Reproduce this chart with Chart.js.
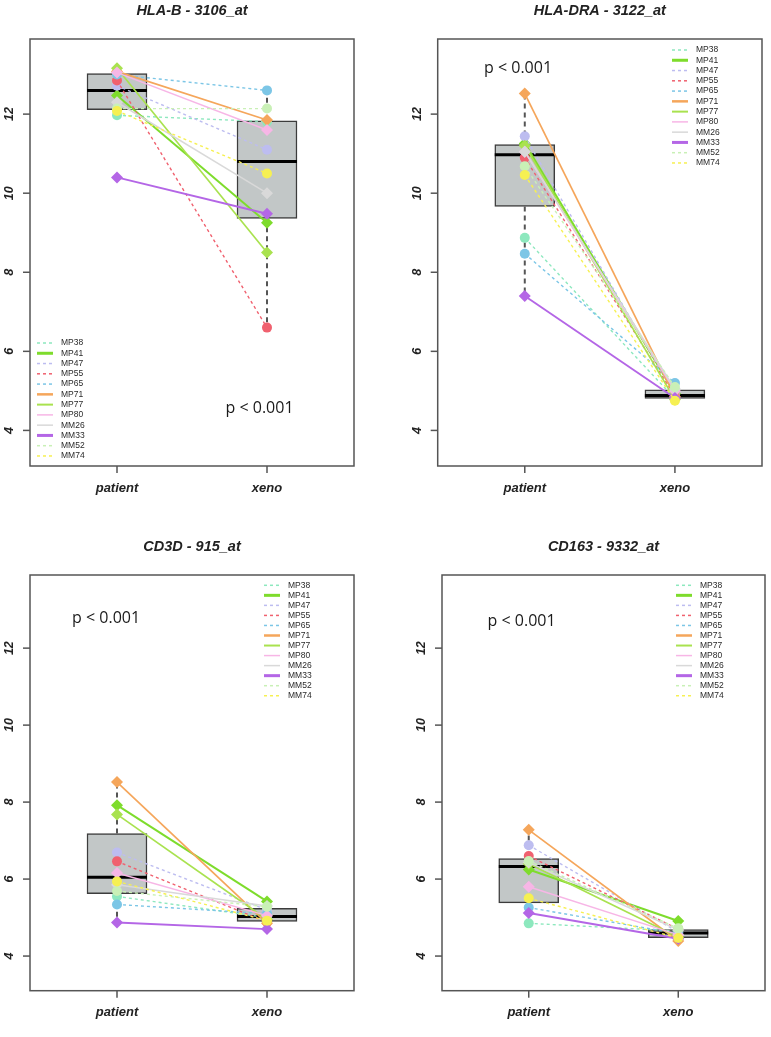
<!DOCTYPE html>
<html>
<head>
<meta charset="utf-8">
<title>Patient vs xeno expression</title>
<script src="https://cdn.jsdelivr.net/npm/chart.js@4.4.1/dist/chart.umd.min.js"></script>
<style>
    html, body { margin: 0; padding: 0; background: #fff; }
    #page { position: relative; width: 771px; height: 1037px; }
    #page canvas { position: absolute; }
</style>
</head>
<body>
<div id="page">
    <canvas id="hlaB" width="385" height="518" style="left:0;top:0"></canvas>
    <canvas id="hlaDRA" width="386" height="518" style="left:385px;top:0"></canvas>
    <canvas id="cd3d" width="385" height="519" style="left:0;top:518px"></canvas>
    <canvas id="cd163" width="386" height="519" style="left:385px;top:518px"></canvas>
</div>
<script>
// Samples, in legend order
const samples = ['MP38', 'MP41', 'MP47', 'MP55', 'MP65', 'MP71', 'MP77', 'MP80', 'MM26', 'MM33', 'MM52', 'MM74'];
const sampleColors = ['#8DE8BE', '#7EDC2C', '#BDBDF0', '#F0616F', '#7CC6E6', '#F5A65B',
                      '#A9E24F', '#F7B6E6', '#D9D9D9', '#B466E6', '#C9F0B6', '#F6F052'];
const sampleDashed = [true, false, true, true, true, false, false, false, false, false, true, true];
const sampleWidths = [1.4, 2, 1.4, 1.4, 1.4, 1.7, 1.7, 1.5, 1.5, 1.9, 1.4, 1.4];
const legendWidths = [1.5, 3, 1.5, 1.5, 1.5, 2.5, 2, 1.5, 1.5, 3, 1.5, 1.5];

const groups = ['patient', 'xeno'];
const yTicks = [4, 6, 8, 10, 12];

// Expression values per sample (patient, xeno)
const hlaBPatient   = [11.97, 12.47, 12.72, 12.85, 13.00, 13.08, 13.16, 13.05, 12.30, 10.40, 12.14, 12.08];
const hlaBXeno      = [11.81,  9.25, 11.10,  6.60, 12.60, 11.85,  8.50, 11.60, 10.00,  9.48, 12.14, 10.50];
const hlaDRAPatient = [ 8.87, 11.26, 11.44, 10.90,  8.47, 12.52, 11.20, 11.05, 11.05,  7.40, 10.68, 10.46];
const hlaDRAXeno    = [ 4.80,  4.93,  4.90,  4.86,  5.20,  4.85,  4.78,  5.00,  5.05,  4.82,  5.10,  4.75];
const cd3dPatient   = [ 5.55,  7.92,  6.69,  6.46,  5.34,  8.52,  7.68,  6.16,  5.85,  4.87,  5.69,  5.94];
const cd3dXeno      = [ 5.00,  5.42,  5.20,  4.88,  5.10,  4.85,  4.95,  5.05,  5.30,  4.70,  5.28,  4.92];
const cd163Patient  = [ 4.85,  6.25,  6.88,  6.60,  5.26,  7.28,  6.40,  5.80,  6.43,  5.12,  6.47,  5.50];
const cd163Xeno     = [ 4.65,  4.91,  4.62,  4.70,  4.58,  4.39,  4.49,  4.55,  4.68,  4.45,  4.72,  4.47];

const pLabel = 'p < 0.001';

// Tukey hinges + 1.5 IQR whiskers, like R's boxplot.stats
function boxStats(values) {
    const s = values.slice().sort((a, b) => a - b);
    const n = s.length;
    const n4 = Math.floor((n + 3) / 2) / 2;
    const at = i => 0.5 * (s[Math.floor(i) - 1] + s[Math.ceil(i) - 1]);
    const q1 = at(n4), median = at((n + 1) / 2), q3 = at(n + 1 - n4);
    const iqr = q3 - q1;
    const lo = s.find(v => v >= q1 - 1.5 * iqr);
    const hi = s.filter(v => v <= q3 + 1.5 * iqr).pop();
    return { q1, median, q3, lo, hi };
}

const rDecor = {
    id: 'rDecor',
    afterDraw(chart, args, opts) {
        const { ctx, chartArea: a, scales: { x, y } } = chart;
        ctx.save();

        // plot frame
        ctx.strokeStyle = '#555';
        ctx.lineWidth = 1.5;
        ctx.strokeRect(a.left, a.top, a.right - a.left, a.bottom - a.top);

        // y axis ticks, labels turned like R's las = 0
        ctx.fillStyle = '#222';
        ctx.font = 'bold italic 12.5px "Liberation Sans", Arial, sans-serif';
        ctx.textAlign = 'center';
        ctx.textBaseline = 'middle';
        yTicks.forEach(v => {
            const py = y.getPixelForValue(v);
            ctx.beginPath();
            ctx.moveTo(a.left, py);
            ctx.lineTo(a.left - 7, py);
            ctx.stroke();
            ctx.save();
            ctx.translate(a.left - 20.5, py);
            ctx.rotate(-Math.PI / 2);
            ctx.fillText(String(v), 0, 0);
            ctx.restore();
        });

        // x axis ticks
        ctx.font = 'bold italic 13px "Liberation Sans", Arial, sans-serif';
        groups.forEach((g, i) => {
            const px = x.getPixelForValue(i + 1);
            ctx.beginPath();
            ctx.moveTo(px, a.bottom);
            ctx.lineTo(px, a.bottom + 7);
            ctx.stroke();
            ctx.fillText(g, px, a.bottom + 22);
        });

        // title
        ctx.font = 'bold italic 14.5px "Liberation Sans", Arial, sans-serif';
        ctx.fillText(opts.title, (a.left + a.right) / 2, a.top - 28.5);

        // p value
        ctx.font = '16px "Open Sans", sans-serif';
        ctx.fillStyle = '#1a1a1a';
        ctx.fillText(pLabel, x.getPixelForValue(opts.pText.x), y.getPixelForValue(opts.pText.y));

        // legend
        const lg = opts.legend;
        ctx.font = '8.5px "Liberation Sans", Arial, sans-serif';
        ctx.textAlign = 'left';
        ctx.fillStyle = '#2a2a2a';
        samples.forEach((name, i) => {
            const ly = lg.y + i * lg.step;
            ctx.strokeStyle = sampleColors[i];
            ctx.lineWidth = legendWidths[i];
            ctx.setLineDash(sampleDashed[i] ? [3, 3] : []);
            ctx.beginPath();
            ctx.moveTo(lg.x, ly);
            ctx.lineTo(lg.x + 16, ly);
            ctx.stroke();
            ctx.fillText(name, lg.x + 24, ly);
        });

        ctx.restore();
    }
};

function segment(x1, y1, x2, y2, color, width, dash) {
    return {
        type: 'line',
        data: [{ x: x1, y: y1 }, { x: x2, y: y2 }],
        borderColor: color,
        borderWidth: width,
        borderDash: dash,
        borderCapStyle: 'butt',
        pointRadius: 0,
        order: 90
    };
}

function renderPanel(panel) {
    const datasets = [];
    const stats = [boxStats(panel.patient), boxStats(panel.xeno)];

    // boxes
    datasets.push({
        type: 'bar',
        data: stats.map((s, i) => ({ x: i + 1, y: [s.q1, s.q3] })),
        backgroundColor: '#C2C7C7',
        borderColor: '#3c3c3c',
        borderWidth: 1.5,
        borderSkipped: false,
        barThickness: 60,
        order: 100
    });

    stats.forEach((s, i) => {
        const gx = i + 1;
        datasets.push(segment(gx, s.q3, gx, s.hi, '#555', 2, [5, 4]));
        datasets.push(segment(gx, s.q1, gx, s.lo, '#555', 2, [5, 4]));
        datasets.push(segment(gx - 0.2, s.median, gx + 0.2, s.median, '#000', 3, []));
    });

    // paired sample lines
    samples.forEach((name, i) => {
        datasets.push({
            type: 'line',
            label: name,
            data: [{ x: 1, y: panel.patient[i] }, { x: 2, y: panel.xeno[i] }],
            borderColor: sampleColors[i],
            backgroundColor: sampleColors[i],
            borderWidth: sampleWidths[i],
            borderDash: sampleDashed[i] ? [3, 3] : [],
            pointStyle: sampleDashed[i] ? 'circle' : 'rectRot',
            pointRadius: sampleDashed[i] ? 5 : 6,
            pointBorderWidth: 0,
            order: 50 - i
        });
    });

    return new Chart(document.getElementById(panel.id), {
        type: 'line',
        data: { datasets },
        plugins: [rDecor],
        options: {
            responsive: false,
            animation: false,
            events: [],
            layout: { padding: panel.padding },
            plugins: {
                legend: { display: false },
                tooltip: { enabled: false },
                rDecor: { title: panel.title, pText: panel.pText, legend: panel.legend }
            },
            scales: {
                x: { type: 'linear', min: 0.42, max: 2.58, offset: false, display: false },
                y: { type: 'linear', min: 3.1, max: 13.9, display: false }
            }
        }
    });
}

const panels = [
    {
        id: 'hlaB', title: 'HLA-B - 3106_at', patient: hlaBPatient, xeno: hlaBXeno,
        padding: { left: 30, right: 31, top: 39, bottom: 52 },
        pText: { x: 1.95, y: 4.55 },
        legend: { x: 37, y: 343, step: 10.27 }
    },
    {
        id: 'hlaDRA', title: 'HLA-DRA - 3122_at', patient: hlaDRAPatient, xeno: hlaDRAXeno,
        padding: { left: 52.7, right: 9, top: 39, bottom: 52 },
        pText: { x: 0.955, y: 13.16 },
        legend: { x: 287, y: 50, step: 10.27 }
    },
    {
        id: 'cd3d', title: 'CD3D - 915_at', patient: cd3dPatient, xeno: cd3dXeno,
        padding: { left: 30, right: 31, top: 57, bottom: 46.3 },
        pText: { x: 0.927, y: 12.78 },
        legend: { x: 264, y: 67.3, step: 10.04 }
    },
    {
        id: 'cd163', title: 'CD163 - 9332_at', patient: cd163Patient, xeno: cd163Xeno,
        padding: { left: 57, right: 4.3, top: 57, bottom: 46.3 },
        pText: { x: 0.952, y: 12.7 },
        legend: { x: 291, y: 67.3, step: 10.04 }
    }
];

panels.forEach(renderPanel);
</script>
</body>
</html>
